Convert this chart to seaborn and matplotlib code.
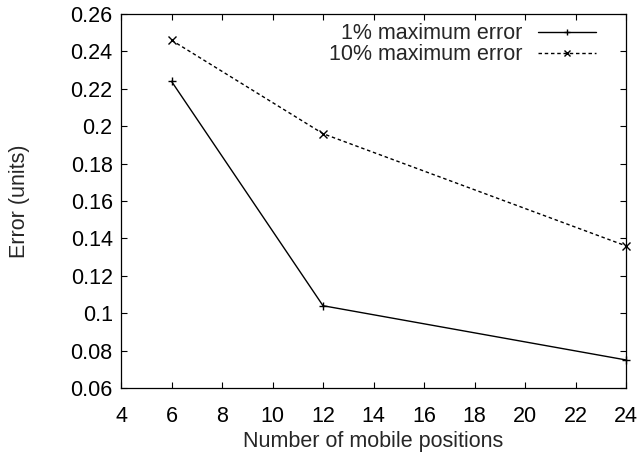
import matplotlib
matplotlib.use("Agg")
import matplotlib.pyplot as plt
import seaborn as sns
import pandas as pd

positions = [6, 12, 24]
err_1pct = [0.224, 0.104, 0.075]
err_10pct = [0.246, 0.196, 0.136]
series_names = ["1% maximum error", "10% maximum error"]
x_ticks = [4, 6, 8, 10, 12, 14, 16, 18, 20, 22, 24]
y_ticks = [0.06, 0.08, 0.1, 0.12, 0.14, 0.16, 0.18, 0.2, 0.22, 0.24, 0.26]
y_tick_labels = ["0.06", "0.08", "0.1", "0.12", "0.14", "0.16", "0.18", "0.2", "0.22", "0.24", "0.26"]

df = pd.DataFrame({
    "positions": positions * 2,
    "error": err_1pct + err_10pct,
    "series": [series_names[0]] * 3 + [series_names[1]] * 3,
})

FS = 15.5

sns.set_style("ticks")
plt.rcParams["font.family"] = ["Liberation Sans", "DejaVu Sans"]
plt.rcParams["font.size"] = FS

fig = plt.figure(figsize=(6.42, 4.58), dpi=100)
ax = fig.add_axes([121 / 642, 1 - 388 / 458, (626 - 121) / 642, (388 - 14) / 458])

sns.lineplot(
    data=df, x="positions", y="error", hue="series", style="series",
    palette=["black", "black"], markers=["+", "x"], dashes=["", (2.5, 2)],
    linewidth=1.0, markersize=6, markeredgecolor="black", markeredgewidth=1.0,
    ax=ax, legend=True, clip_on=False,
)

ax.set_xlim(4, 24)
ax.set_ylim(0.06, 0.26)
ax.set_xticks(x_ticks)
ax.set_xticklabels([str(t) for t in x_ticks])
ax.set_yticks(y_ticks)
ax.set_yticklabels(y_tick_labels)
ax.tick_params(direction="in", top=True, right=True, length=4.5, width=0.8,
               labelsize=FS, colors="black")
ax.tick_params(axis="x", pad=13)
ax.tick_params(axis="y", pad=6)
for s in ax.spines.values():
    s.set_visible(True)
    s.set_linewidth(0.9)
    s.set_color("black")

ax.set_xlabel("Number of mobile positions", fontsize=FS, labelpad=3)
ax.set_ylabel("Error (units)", fontsize=FS, labelpad=29)

handles, labels = ax.get_legend_handles_labels()
for h in handles:
    h.set_markersize(5)
leg = ax.legend(handles, labels, loc="upper right", frameon=False, markerfirst=False,
                handlelength=2.7, handletextpad=0.7, fontsize=FS, borderaxespad=0.0,
                labelspacing=0.0, bbox_to_anchor=(0.957, 0.998))

fig.savefig("out.png", dpi=100)
